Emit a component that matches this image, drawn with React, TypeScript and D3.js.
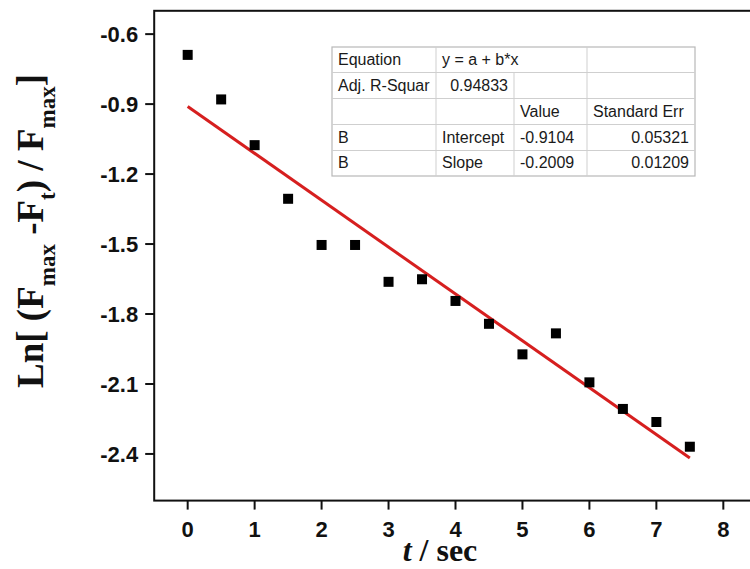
import React from "react";
import * as d3 from "d3";

const times = [0, 0.5, 1, 1.5, 2, 2.5, 3, 3.5, 4, 4.5, 5, 5.5, 6, 6.5, 7, 7.5];
const lnValues = [-0.689, -0.88, -1.076, -1.306, -1.504, -1.504, -1.662, -1.651, -1.744, -1.842, -1.973, -1.883, -2.093, -2.207, -2.263, -2.369];
const intercept = -0.9104;
const slope = -0.2009;
const xTicks = [0, 1, 2, 3, 4, 5, 6, 7, 8];
const yTicks = [-0.6, -0.9, -1.2, -1.5, -1.8, -2.1, -2.4];
const tableRows: { text: string; anchor: "start" | "end" }[][] = [
  [{ text: "Equation", anchor: "start" }, { text: "y = a + b*x", anchor: "start" }, { text: "", anchor: "start" }, { text: "", anchor: "start" }],
  [{ text: "Adj. R-Squar", anchor: "start" }, { text: "0.94833", anchor: "end" }, { text: "", anchor: "start" }, { text: "", anchor: "start" }],
  [{ text: "", anchor: "start" }, { text: "", anchor: "start" }, { text: "Value", anchor: "start" }, { text: "Standard Err", anchor: "start" }],
  [{ text: "B", anchor: "start" }, { text: "Intercept", anchor: "start" }, { text: "-0.9104", anchor: "start" }, { text: "0.05321", anchor: "end" }],
  [{ text: "B", anchor: "start" }, { text: "Slope", anchor: "start" }, { text: "-0.2009", anchor: "start" }, { text: "0.01209", anchor: "end" }],
];

const W = 750;
const H = 569;
const left = 154.2;
const right = 756.8;
const top = 10.8;
const bottom = 500.6;

export default function App() {
  const x = d3.scaleLinear().domain([-0.5, 8.5]).range([left, right]);
  const y = d3.scaleLinear().domain([-2.6, -0.5]).range([bottom, top]);
  const fitX = [0, 7.5];
  const line = d3
    .line<number>()
    .x((t) => x(t))
    .y((t) => y(intercept + slope * t));

  const colX = [332, 436, 514, 587, 695];
  const rowY = [47, 72.5, 98.5, 124.5, 150.5, 176];
  const pad = 6;

  const sq = 10;

  return (
    <svg width={W} height={H} style={{ position: "absolute", left: 0, top: 0, background: "#fff" }}>
      <rect x={0} y={0} width={W} height={H} fill="#fff" />
      {/* fit line */}
      <path d={line(fitX) || ""} stroke="#d61f1f" strokeWidth={3} fill="none" />
      {/* points */}
      {times.map((t, i) => (
        <rect key={i} x={x(t) - sq / 2} y={y(lnValues[i]) - sq / 2} width={sq} height={sq} fill="#000" />
      ))}
      {/* table */}
      <g fontFamily="'Liberation Sans', Arial, sans-serif" fontSize={16} fill="#1a1a1a">
        <rect x={colX[0]} y={rowY[0]} width={colX[4] - colX[0]} height={rowY[5] - rowY[0]} fill="#fff" stroke="#b8b8b8" strokeWidth={1.2} />
        {rowY.slice(1, 5).map((ry, i) => (
          <line key={"h" + i} x1={colX[0]} x2={colX[4]} y1={ry} y2={ry} stroke="#cfcfcf" strokeWidth={1} />
        ))}
        {[1, 2, 3].map((c) =>
          [0, 1, 2, 3, 4].map((r) =>
            c === 2 && r === 0 ? null : (
              <line key={"v" + c + r} x1={colX[c]} x2={colX[c]} y1={rowY[r]} y2={rowY[r + 1]} stroke="#cfcfcf" strokeWidth={1} />
            )
          )
        )}
        {tableRows.map((row, r) =>
          row.map((cell, c) =>
            cell.text ? (
              <text
                key={"t" + r + c}
                x={cell.anchor === "start" ? colX[c] + pad : colX[c + 1] - pad}
                y={rowY[r + 1] - 8}
                textAnchor={cell.anchor}
              >
                {cell.text}
              </text>
            ) : null
          )
        )}
      </g>
      {/* frame */}
      <rect x={left} y={top} width={right - left} height={bottom - top} fill="none" stroke="#111" strokeWidth={2} />
      {/* y ticks */}
      <g fontFamily="'Liberation Sans', Arial, sans-serif" fontWeight="bold" fontSize={22} fill="#111">
        {yTicks.map((v) => (
          <g key={v}>
            <line x1={left - 9} x2={left} y1={y(v)} y2={y(v)} stroke="#111" strokeWidth={2} />
            <text x={left - 16} y={y(v)} dy="0.36em" textAnchor="end">
              {d3.format(".1f")(v).replace("−", "-")}
            </text>
          </g>
        ))}
        {xTicks.map((v) => (
          <g key={v}>
            <line x1={x(v)} x2={x(v)} y1={bottom} y2={bottom + 9} stroke="#111" strokeWidth={2} />
            <text x={x(v)} y={537} textAnchor="middle">
              {v}
            </text>
          </g>
        ))}
      </g>
      {/* x title */}
      <text x={440} y={561} textAnchor="middle" fontFamily="'Liberation Serif', 'Times New Roman', serif" fontWeight="bold" fontSize={32} fill="#111">
        <tspan fontStyle="italic">t</tspan>
        <tspan> / sec</tspan>
      </text>
      {/* y title */}
      <text
        transform="translate(43,231) rotate(-90)"
        textAnchor="middle"
        fontFamily="'Liberation Serif', 'Times New Roman', serif"
        fontWeight="bold"
        fontSize={37}
        fill="#111"
      >
        <tspan>Ln[ (F</tspan>
        <tspan fontSize={23} dy={12}>max</tspan>
        <tspan dy={-12}> -F</tspan>
        <tspan fontSize={23} dy={12}>t</tspan>
        <tspan dy={-12}>) / F</tspan>
        <tspan fontSize={23} dy={12}>max</tspan>
        <tspan dy={-12}>]</tspan>
      </text>
    </svg>
  );
}
